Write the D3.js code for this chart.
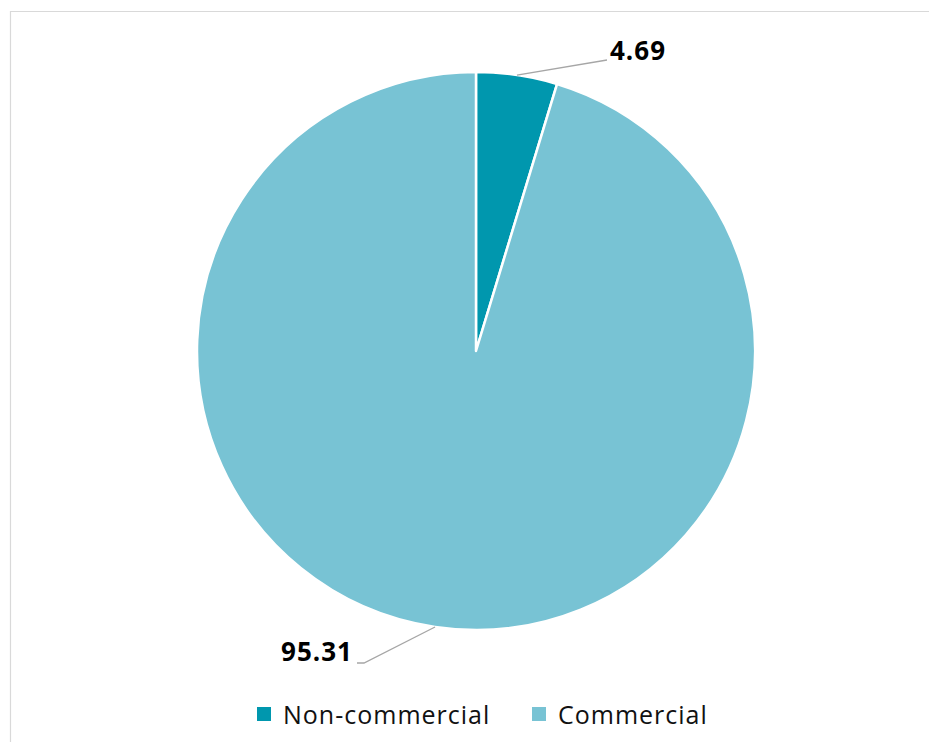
<!DOCTYPE html>
<html>
<head>
<meta charset="utf-8">
<script src="https://cdn.jsdelivr.net/npm/d3@7"></script>
<style>
  html, body { margin: 0; padding: 0; background: #fff; }
  svg { display: block; }
  text { font-family: "Open Sans", Lato, sans-serif; }
</style>
</head>
<body>
<svg id="chart" width="929" height="742"></svg>
<script>
// Share of records by type (percent)
const categories = ["Non-commercial", "Commercial"];
const values = [4.69, 95.31];
const colors = ["#0097AE", "#78C3D4"];

const svg = d3.select("#chart");
const W = 929, H = 742;

// chart frame
svg.append("path")
  .attr("d", `M10.5,${H} V11.5 H${W}`)
  .attr("fill", "none")
  .attr("stroke", "#d9d9d9")
  .attr("stroke-width", 1.2);

const cx = 476, cy = 351, r = 279;
const g = svg.append("g").attr("transform", `translate(${cx},${cy})`);

const pie = d3.pie().sort(null).value(d => d.v);
const data = pie(categories.map((c, i) => ({ c, v: values[i], color: colors[i] })));
const arc = d3.arc().innerRadius(0).outerRadius(r);

g.selectAll("path.slice")
  .data(data)
  .enter().append("path")
  .attr("class", "slice")
  .attr("d", arc)
  .attr("fill", d => d.data.color)
  .attr("stroke", "#fff")
  .attr("stroke-width", 2.5)
  .attr("stroke-linejoin", "round");

// value labels with leader lines starting at each slice's mid-angle on the rim
const leaders = [
  { end: [131, -291], bend: null, anchor: "start", tx: 134, ty: -291 },
  { end: [-112, 312], bend: [-119, 312], anchor: "end", tx: -123, ty: 310 }
];
data.forEach((d, i) => {
  const L = leaders[i];
  const a = (d.startAngle + d.endAngle) / 2;
  const p = [Math.sin(a) * r, -Math.cos(a) * r];
  const pts = [p, L.end];
  if (L.bend) pts.push(L.bend);
  g.append("path")
    .attr("d", d3.line()(pts))
    .attr("fill", "none")
    .attr("stroke", "#a6a6a6")
    .attr("stroke-width", 1.3);
  g.append("text")
    .attr("x", L.tx)
    .attr("y", L.ty)
    .attr("text-anchor", L.anchor)
    .attr("font-size", 26)
    .attr("font-weight", "bold")
    .attr("letter-spacing", 1)
    .attr("fill", "#000")
    .text(d3.format(".2f")(d.data.v));
});

// legend
const legend = svg.append("g").attr("transform", "translate(0,714)");
const legendX = [257, 532];
categories.forEach((c, i) => {
  legend.append("rect")
    .attr("x", legendX[i]).attr("y", -7)
    .attr("width", 14).attr("height", 14)
    .attr("fill", colors[i]);
  legend.append("text")
    .attr("x", legendX[i] + 26).attr("y", 10)
    .attr("font-size", 25)
    .attr("letter-spacing", 1)
    .attr("fill", "#111")
    .text(c);
});
</script>
</body>
</html>
